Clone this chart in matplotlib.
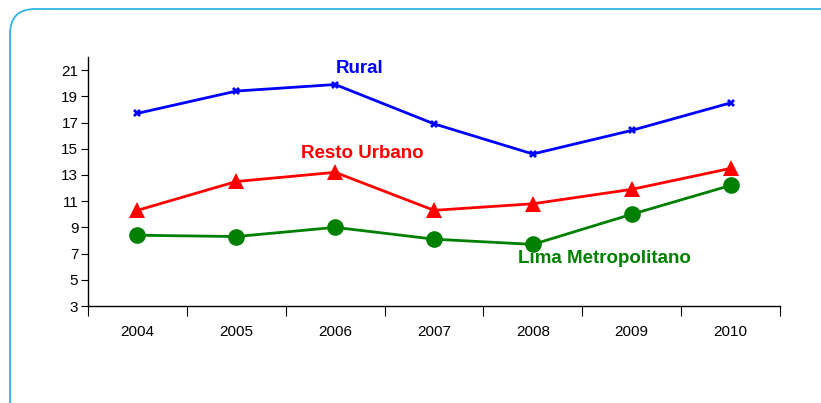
import matplotlib.pyplot as plt
from matplotlib.patches import FancyBboxPatch
from matplotlib.transforms import IdentityTransform
import numpy as np

years = ["2004", "2005", "2006", "2007", "2008", "2009", "2010"]
rural = [17.7, 19.4, 19.9, 16.9, 14.6, 16.4, 18.5]
resto_urbano = [10.3, 12.5, 13.2, 10.3, 10.8, 11.9, 13.5]
lima_metro = [8.4, 8.3, 9.0, 8.1, 7.7, 10.0, 12.2]

plt.rcParams['font.family'] = ['Liberation Sans Narrow', 'Liberation Sans', 'DejaVu Sans']

fig = plt.figure(figsize=(8.21, 4.03), dpi=100)
ax = fig.add_axes([88 / 821, 1 - 306 / 403, (780 - 88) / 821, (306 - 57) / 403])

x = np.arange(len(years))
ax.plot(x, rural, color='#0000ff', lw=2, marker='X', ms=6, mew=0)
ax.plot(x, resto_urbano, color='#ff0000', lw=2, marker='^', ms=12, mew=0)
ax.plot(x, lima_metro, color='#008000', lw=2, marker='o', ms=12, mew=0)

ax.set_xlim(-0.5, len(years) - 0.5)
ax.set_ylim(3, 22)
ax.set_yticks(range(3, 22, 2))
ax.set_xticks(np.arange(-0.5, len(years), 1))
ax.set_xticklabels([])
ax.set_xticks(x, minor=True)
ax.set_xticklabels(years, minor=True)
ax.tick_params(axis='x', which='minor', length=0, pad=14, labelsize=11)
ax.tick_params(axis='x', which='major', length=7, direction='out')
ax.tick_params(axis='y', length=5, direction='out', labelsize=11, pad=2)
for s in ['top', 'right']:
    ax.spines[s].set_visible(False)
for s in ['left', 'bottom']:
    ax.spines[s].set_linewidth(1)

lab = dict(fontweight='bold', fontsize=13.5, family=['Liberation Sans', 'DejaVu Sans'])
ax.text(2.25, 21.15, "Rural", color='#0000ff', ha='center', va='center', **lab)
ax.text(2.27, 14.6, "Resto Urbano", color='#ff0000', ha='center', va='center', **lab)
ax.text(4.72, 6.65, "Lima Metropolitano", color='#008000', ha='center', va='center', **lab)

# rounded frame around the chart
frame = FancyBboxPatch((10, -40), 838, 403 - 9 + 40,
                       boxstyle="round,pad=0,rounding_size=25",
                       transform=IdentityTransform(), fill=False,
                       edgecolor='#2fb4e6', lw=1.3)
fig.patches.append(frame)

fig.savefig("out.png", dpi=100)
